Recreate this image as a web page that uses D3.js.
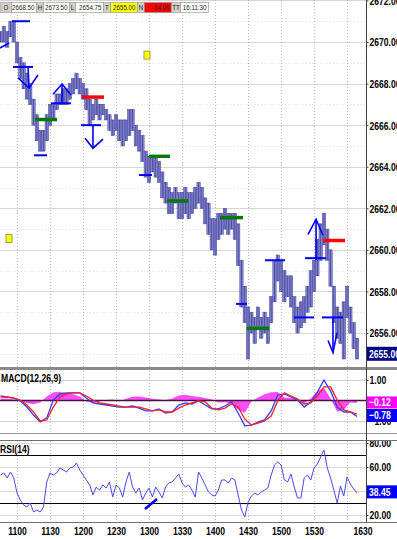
<!DOCTYPE html>
<html>
<head>
<meta charset="utf-8">
<script src="https://cdn.jsdelivr.net/npm/d3@7"></script>
<style>
body { margin: 0; background: #fff; }
svg { display: block; font-family: "Liberation Sans", Arial, sans-serif; }
</style>
</head>
<body>
<svg id="chart" width="397" height="539"></svg>
<script>
// intraday ES chart (3-min bars, minutes since midnight)
var barStart = 645, barStep = 3;
var barHigh = [2670.50, 2670.75, 2670.50, 2671.00, 2671.00, 2670.00, 2669.25, 2669.00, 2668.50, 2668.00,
    2667.25, 2666.50, 2665.75, 2665.75, 2666.50, 2667.00, 2667.00, 2667.50, 2667.50, 2667.75,
    2667.75, 2668.00, 2668.25, 2668.50, 2668.25, 2668.00, 2667.75, 2667.25, 2667.00, 2667.25,
    2667.00, 2667.00, 2666.75, 2666.50, 2666.25, 2666.50, 2666.25, 2666.25, 2666.25, 2666.75,
    2666.75, 2666.00, 2665.75, 2665.50, 2664.75, 2664.50, 2664.50, 2664.50, 2664.25, 2663.75,
    2663.25, 2663.00, 2662.75, 2663.00, 2662.75, 2662.75, 2663.00, 2662.75, 2662.75, 2663.00,
    2663.25, 2663.00, 2662.50, 2662.25, 2661.50, 2661.50, 2661.75, 2661.75, 2662.00, 2661.75,
    2661.75, 2661.75, 2661.25, 2659.50, 2658.25, 2657.25, 2657.00, 2656.75, 2657.25, 2656.75,
    2657.00, 2656.75, 2657.75, 2659.50, 2659.75, 2659.50, 2659.00, 2658.75, 2658.75, 2657.75,
    2657.25, 2657.50, 2657.75, 2658.25, 2659.00, 2659.50, 2660.50, 2661.25, 2661.75, 2661.00,
    2660.00, 2658.25, 2657.25, 2657.00, 2657.50, 2658.25, 2657.25, 2656.50, 2655.75];
var barLow = [2670.00, 2670.00, 2669.75, 2670.25, 2670.00, 2669.00, 2668.25, 2667.75, 2667.25, 2667.00,
    2666.00, 2665.25, 2664.75, 2664.75, 2665.25, 2666.00, 2666.25, 2666.75, 2667.00, 2667.00,
    2667.00, 2667.25, 2667.50, 2667.75, 2667.50, 2667.25, 2666.75, 2666.00, 2666.25, 2666.50,
    2666.25, 2666.50, 2666.25, 2665.75, 2665.50, 2665.75, 2665.25, 2665.00, 2665.25, 2665.50,
    2665.75, 2665.00, 2664.75, 2664.25, 2663.50, 2663.25, 2663.75, 2663.50, 2663.25, 2662.50,
    2662.25, 2661.75, 2661.75, 2662.25, 2661.50, 2661.50, 2661.75, 2661.50, 2661.75, 2662.00,
    2662.25, 2662.00, 2661.25, 2660.75, 2660.00, 2659.75, 2660.50, 2660.75, 2661.00, 2660.75,
    2661.00, 2660.50, 2659.25, 2657.25, 2656.50, 2654.75, 2656.00, 2655.50, 2656.25, 2655.75,
    2656.00, 2655.50, 2656.50, 2657.50, 2658.50, 2658.00, 2657.50, 2657.75, 2657.25, 2656.50,
    2656.00, 2656.25, 2656.50, 2657.00, 2657.25, 2658.00, 2658.75, 2659.50, 2660.25, 2659.50,
    2658.25, 2656.50, 2655.75, 2655.50, 2654.75, 2656.75, 2656.00, 2655.25, 2654.75];
var lastPrice = 2655.00;

// MACD(12,26,9), every 6 min
var macdStart = 645, macdStep = 6;
var macdLine = [0.22, 0.17, 0.12, -0.02, -0.32, -0.71, -1.05, -0.85, 0.02, 0.32,
    0.37, 0.37, 0.37, 0.12, -0.12, -0.17, -0.22, -0.27, -0.32, -0.32,
    -0.27, -0.37, -0.51, -0.51, -0.41, -0.61, -0.56, -0.22, -0.12, -0.17,
    -0.02, -0.22, -0.41, -0.41, -0.27, -0.07, -0.61, -1.24, -1.20, -1.05,
    -0.95, -0.51, 0.27, 0.32, 0.17, 0.02, -0.32, -0.07, 0.41, 1.00,
    0.46, -0.32, -0.56, -0.56, -0.78];
var signalLine = [0.17, 0.17, 0.12, 0.02, -0.22, -0.56, -1.00, -0.95, -0.32, 0.17,
    0.32, 0.37, 0.37, 0.22, 0.02, -0.12, -0.17, -0.22, -0.27, -0.32,
    -0.32, -0.32, -0.41, -0.51, -0.46, -0.56, -0.56, -0.37, -0.22, -0.12,
    -0.02, -0.07, -0.37, -0.46, -0.37, -0.17, -0.32, -0.90, -1.20, -1.10,
    -1.00, -0.76, -0.02, 0.37, 0.22, 0.07, -0.17, -0.12, 0.22, 0.66,
    0.66, 0.02, -0.46, -0.56, -0.66];
var macdHist = [0.10, 0.08, 0.05, -0.05, -0.12, -0.18, -0.10, 0.20, 0.40, 0.42,
    0.35, 0.30, 0.20, -0.05, -0.12, -0.05, 0.03, 0.05, -0.05, 0.08,
    0.18, 0.20, 0.15, 0.08, 0.05, 0.02, 0.10, 0.25, 0.28, 0.22,
    0.18, 0.12, 0.05, -0.10, -0.08, -0.15, -0.45, -0.60, -0.05, 0.15,
    0.30, 0.40, 0.42, 0.15, 0.12, 0.05, -0.15, 0.10, 0.45, 0.62,
    0.10, -0.55, -0.45, -0.10, -0.12];

// RSI(14), every 3 min
var rsi = [53.3, 55.0, 50.8, 55.8, 50.8, 38.3, 32.5, 28.3, 26.7, 30.0,
    22.5, 24.2, 22.5, 26.7, 47.5, 55.0, 53.3, 55.0, 59.2, 57.5,
    55.8, 59.2, 60.0, 63.3, 57.5, 53.3, 49.2, 45.0, 36.7, 43.3,
    40.8, 45.0, 42.5, 47.5, 35.0, 45.0, 42.5, 35.0, 47.5, 55.8,
    43.3, 38.3, 42.5, 32.5, 38.3, 42.5, 35.0, 43.3, 39.2, 34.2,
    43.3, 46.7, 47.5, 50.8, 54.2, 46.7, 43.3, 45.0, 40.8, 35.0,
    55.8, 50.8, 45.0, 39.2, 36.7, 35.8, 40.8, 49.2, 49.2, 46.7,
    50.8, 49.2, 36.7, 24.2, 18.3, 30.8, 35.8, 38.3, 36.7, 39.2,
    40.8, 42.5, 53.3, 61.7, 64.2, 61.7, 49.2, 47.5, 54.2, 43.3,
    34.2, 34.2, 50.8, 53.3, 49.2, 59.2, 62.5, 68.3, 74.2, 59.2,
    50.8, 40.8, 30.0, 44.2, 35.8, 51.7, 45.8, 41.7, 38.45];

// drawn levels: [from, to, price]
var blueLevels = [[655.4, 671.8, 2671.0], [656.3, 674.5, 2668.8], [675.4, 687.2, 2664.55],
    [690.9, 709.0, 2667.05], [718.1, 736.3, 2666.0], [770.9, 782.7, 2663.6], [859.0, 869.0, 2657.4],
    [885.4, 903.6, 2659.5], [911.8, 930.0, 2656.75], [921.8, 940.9, 2659.6], [937.2, 956.3, 2656.75]];
var greenLevels = [[676.3, 696.3, 2666.27], [780.0, 799.0, 2664.5], [796.3, 815.4, 2662.35],
    [844.5, 865.4, 2661.55], [869.0, 889.0, 2656.22]];
var redLevels = [[719.0, 739.0, 2667.35], [938.1, 958.1, 2660.45]];
// drawn arrows as polylines of [time, price]
var arrows = [
    [[644.5, 2669.71], [652.7, 2669.95]],
    [[670.0, 2668.8], [670.9, 2667.78]], [[660.9, 2668.27], [670.9, 2667.78], [679.0, 2668.41]],
    [[700.9, 2667.06], [700.9, 2667.98]], [[692.7, 2667.49], [700.9, 2667.98], [709.0, 2667.45]],
    [[729.0, 2666.0], [729.0, 2664.89]], [[721.8, 2665.37], [729.0, 2664.89], [738.1, 2665.33]],
    [[931.8, 2659.5], [931.8, 2661.47]], [[924.5, 2660.75], [931.8, 2661.47], [938.1, 2660.70]],
    [[947.2, 2656.75], [947.2, 2655.06]], [[942.7, 2655.64], [947.2, 2655.06], [950.9, 2656.02]]];
var markers = [[778.1, 2669.37], [652.7, 2660.55]];
var rsiTrend = [[776.3, 25.0], [787.2, 33.3]];

var priceTicks = [2656, 2658, 2660, 2662, 2664, 2666, 2668, 2670, 2672];
var tickTimes = [660, 690, 720, 750, 780, 810, 840, 870, 900, 930, 960];
var tickLabels = ['1100', '1130', '1200', '1230', '1300', '1330', '1400', '1430', '1500', '1530', ''];
var endLabel = '1630';

var hdrKeys = ['O', 'H', 'L', 'T', 'N', 'TT'];
var hdrVals = ['2668.50', '2673.50', '2654.75', '2655.00', '-14.00', '16:11:30'];

// ---- layout
var svg = d3.select('#chart');
var plotW = 366;
var x = d3.scaleLinear().domain([644.5, 977.2]).range([0, plotW]);
var yP = d3.scaleLinear().domain([2656, 2670]).range([333, 42]);
var yM = d3.scaleLinear().domain([-1, 1]).range([421, 380]);
var yR = d3.scaleLinear().domain([20, 80]).range([515, 443]);

function clip(id, y0, h) {
    svg.append('clipPath').attr('id', id).append('rect')
        .attr('x', 0).attr('y', y0).attr('width', plotW).attr('height', h);
    return svg.append('g').attr('clip-path', 'url(#' + id + ')');
}

function label(g, x0, y0, str, o) {
    o = o || {};
    return g.append('text')
        .attr('transform', 'translate(' + x0 + ',' + y0 + ') scale(' + (o.sx || 0.78) + ',1)')
        .attr('text-anchor', o.anchor || 'start')
        .attr('dominant-baseline', 'central')
        .attr('font-size', o.size || 11)
        .attr('font-weight', o.weight || 'bold')
        .attr('fill', o.fill || '#000')
        .text(str);
}

function vgrid(g, y0, y1) {
    g.selectAll(null).data(tickTimes).enter().append('line')
        .attr('x1', d => Math.round(x(d)) + 0.5).attr('x2', d => Math.round(x(d)) + 0.5)
        .attr('y1', y0).attr('y2', y1)
        .attr('stroke', '#b8b8b8').attr('stroke-dasharray', '1,2');
}

function hline(g, y, color, dash) {
    g.append('line').attr('x1', 0).attr('x2', plotW)
        .attr('y1', Math.round(y) + 0.5).attr('y2', Math.round(y) + 0.5)
        .attr('stroke', color).attr('stroke-dasharray', dash || null);
}

// ---- price panel
var main = clip('clipMain', 0, 367);
d3.range(2655, 2673).forEach(function (p) {
    if (p % 2 == 0) hline(main, yP(p), '#d6d6d6');
    else hline(main, yP(p), '#e2e2e2', '1,2');
});
vgrid(main, 0, 367);

var bars = barHigh.map(function (h, i) {
    return { t: barStart + i * barStep, h: h, l: barLow[i] };
});
main.selectAll('rect.bar').data(bars).enter().append('rect')
    .attr('class', 'bar')
    .attr('x', d => x(d.t) - 1.65).attr('width', 3.3)
    .attr('y', d => yP(d.h)).attr('height', d => Math.max(1, yP(d.l) - yP(d.h)))
    .attr('fill', '#8d8dd2').attr('stroke', '#4b4ba3').attr('stroke-width', 0.6);
main.selectAll('line.bar').data(bars).enter().append('line')
    .attr('x1', d => x(d.t)).attr('x2', d => x(d.t))
    .attr('y1', d => yP(d.h)).attr('y2', d => yP(d.l))
    .attr('stroke', '#3a3a92').attr('stroke-width', 0.8);

function levels(data, color, w) {
    main.selectAll(null).data(data).enter().append('line')
        .attr('x1', d => x(d[0])).attr('x2', d => x(d[1]))
        .attr('y1', d => yP(d[2])).attr('y2', d => yP(d[2]))
        .attr('stroke', color).attr('stroke-width', w);
}
levels(blueLevels, '#0000ff', 2);
levels(greenLevels, '#007a00', 3.5);
levels(redLevels, '#ff0000', 3.5);

var pline = d3.line().x(d => x(d[0])).y(d => yP(d[1]));
main.selectAll('path.arrow').data(arrows).enter().append('path')
    .attr('class', 'arrow').attr('d', pline)
    .attr('fill', 'none').attr('stroke', '#0000ff').attr('stroke-width', 1.6);

main.selectAll('rect.mark').data(markers).enter().append('rect')
    .attr('x', d => x(d[0]) - 3).attr('y', d => yP(d[1]) - 4)
    .attr('width', 6).attr('height', 8)
    .attr('fill', '#ffff00').attr('stroke', '#8a8a30').attr('stroke-width', 0.8);

// ---- MACD panel
var mp = clip('clipMacd', 371, 63);
hline(mp, yM(1), '#d0d0d0');
hline(mp, yM(-1), '#d0d0d0');
vgrid(mp, 371, 434);
mp.append('path').datum(macdHist)
    .attr('d', d3.area().x((d, i) => x(macdStart + i * macdStep)).y0(yM(0)).y1(d => yM(d)))
    .attr('fill', '#ff4cff');
mp.append('line').attr('x1', 0).attr('x2', plotW).attr('y1', yM(0)).attr('y2', yM(0))
    .attr('stroke', '#4a1040').attr('stroke-width', 1.5);
var mline = d3.line().x((d, i) => x(macdStart + i * macdStep)).y(d => yM(d));
mp.append('path').datum(macdLine).attr('d', mline)
    .attr('fill', 'none').attr('stroke', '#2f3cff').attr('stroke-width', 1.3);
mp.append('path').datum(signalLine).attr('d', mline)
    .attr('fill', 'none').attr('stroke', '#ff2020').attr('stroke-width', 1.3);

// ---- RSI panel
var rp = clip('clipRsi', 441, 81);
[80, 60, 40, 20].forEach(function (v) { hline(rp, yR(v), '#dadada'); });
vgrid(rp, 441, 522);
hline(rp, yR(70), '#000');
hline(rp, yR(30), '#000');
rp.append('path').datum(rsi)
    .attr('d', d3.line().x((d, i) => x(barStart + i * barStep)).y(d => yR(d)))
    .attr('fill', 'none').attr('stroke', '#4a4af0').attr('stroke-width', 1);
rp.append('path').datum(rsiTrend)
    .attr('d', d3.line().x(d => x(d[0])).y(d => yR(d[1])))
    .attr('stroke', '#0000e0').attr('stroke-width', 2.5);

// ---- frames
var frame = svg.append('g');
frame.append('rect').attr('x', 0).attr('y', 367).attr('width', 397).attr('height', 3).attr('fill', '#8a8a8a');
frame.append('line').attr('x1', 0).attr('x2', 397).attr('y1', 433.5).attr('y2', 433.5).attr('stroke', '#9a9a9a');
frame.append('line').attr('x1', 0).attr('x2', 397).attr('y1', 440.5).attr('y2', 440.5).attr('stroke', '#707070');
frame.append('line').attr('x1', 0).attr('x2', 397).attr('y1', 522.5).attr('y2', 522.5).attr('stroke', '#707070');
frame.append('line').attr('x1', plotW + 0.5).attr('x2', plotW + 0.5).attr('y1', 0).attr('y2', 522)
    .attr('stroke', '#404040');

// ---- right axes
function rightAxis(scale, values, fmt, x0) {
    var g = svg.append('g').attr('transform', 'translate(' + (plotW + 0.5) + ',0)')
        .call(d3.axisRight(scale).tickValues(values).tickFormat(fmt).tickSize(2));
    g.select('.domain').remove();
    g.selectAll('.tick line').attr('stroke', '#404040');
    g.attr('font-family', null).attr('font-size', null);
    g.selectAll('text').attr('x', null).attr('dy', null)
        .attr('dominant-baseline', 'central')
        .attr('transform', 'translate(' + (x0 || 3) + ',0) scale(0.78,1)')
        .attr('font-size', 11).attr('font-weight', 'bold').attr('fill', '#000');
    return g;
}
rightAxis(yP, priceTicks, d3.format('.2f'));
rightAxis(yM, [1, -1], d3.format('.2f'));
rightAxis(yR, [80, 60, 40, 20], d3.format('.2f'));

function valueBox(y, h, color, str) {
    svg.append('rect').attr('x', plotW + 1).attr('y', y - h / 2).attr('width', 397 - plotW - 1).attr('height', h)
        .attr('fill', color);
    label(svg, plotW + 3, y, str, { fill: '#fff' });
}
valueBox(yP(lastPrice), 14, '#000080', d3.format('.2f')(lastPrice));
valueBox(yM(macdHist[macdHist.length - 1]) - 0.5, 12, '#ff00ff', d3.format('.2f')(macdHist[macdHist.length - 1]));
valueBox(yM(macdLine[macdLine.length - 1]) - 1, 13, '#0000ff', d3.format('.2f')(macdLine[macdLine.length - 1]));
valueBox(yR(rsi[rsi.length - 1]) - 1, 13, '#0000ff', d3.format('.2f')(rsi[rsi.length - 1]));

// clip the top of the RSI scale at the panel border
svg.append('rect').attr('x', plotW + 1).attr('y', 434).attr('width', 30).attr('height', 6).attr('fill', '#fff');
frame.raise();

// ---- time axis
var xa = svg.append('g').attr('transform', 'translate(0,523)')
    .call(d3.axisBottom(x).tickValues(tickTimes).tickFormat((d, i) => tickLabels[i]).tickSize(0).tickPadding(0));
xa.select('.domain').remove();
xa.attr('font-family', null).attr('font-size', null);
xa.selectAll('text').attr('y', null).attr('dy', null)
    .attr('dominant-baseline', 'central')
    .attr('transform', 'translate(0,8) scale(0.78,1)')
    .attr('font-size', 11).attr('font-weight', 'bold').attr('fill', '#000');
label(svg, x.range()[1] - 3, 531, endLabel, { anchor: 'middle' });

// ---- panel titles
label(svg, 1, 378, 'MACD(12,26,9)');
label(svg, 0, 449, 'RSI(14)');

// ---- quote header
var keyX = [0, 36, 69, 103, 137, 171], keyW = [11, 7, 6, 7, 7, 9];
var valX = [11, 43, 75, 110, 144, 180], valW = [25, 26, 28, 27, 27, 28];
var valFill = ['#fff', '#fff', '#fff', '#ffff00', '#ff0000', '#fff'];
var hdr = svg.append('g');
hdrKeys.forEach(function (k, i) {
    hdr.append('rect').attr('x', keyX[i] + 0.5).attr('y', 2.5).attr('width', keyW[i]).attr('height', 10)
        .attr('fill', '#d4d0c8').attr('stroke', '#9a9a9a').attr('stroke-width', 0.6);
    label(hdr, keyX[i] + keyW[i] / 2 + 0.5, 7.5, k, { anchor: 'middle', size: 8, weight: 'normal', fill: '#222' });
    hdr.append('rect').attr('x', valX[i] + 0.5).attr('y', 2.5).attr('width', valW[i]).attr('height', 10)
        .attr('fill', valFill[i]).attr('stroke', '#8a8a8a').attr('stroke-width', 0.6);
    label(hdr, valX[i] + valW[i] - 1.5, 7.5, hdrVals[i], { anchor: 'end', size: 8, weight: 'normal', fill: '#222' });
});
</script>
</body>
</html>
